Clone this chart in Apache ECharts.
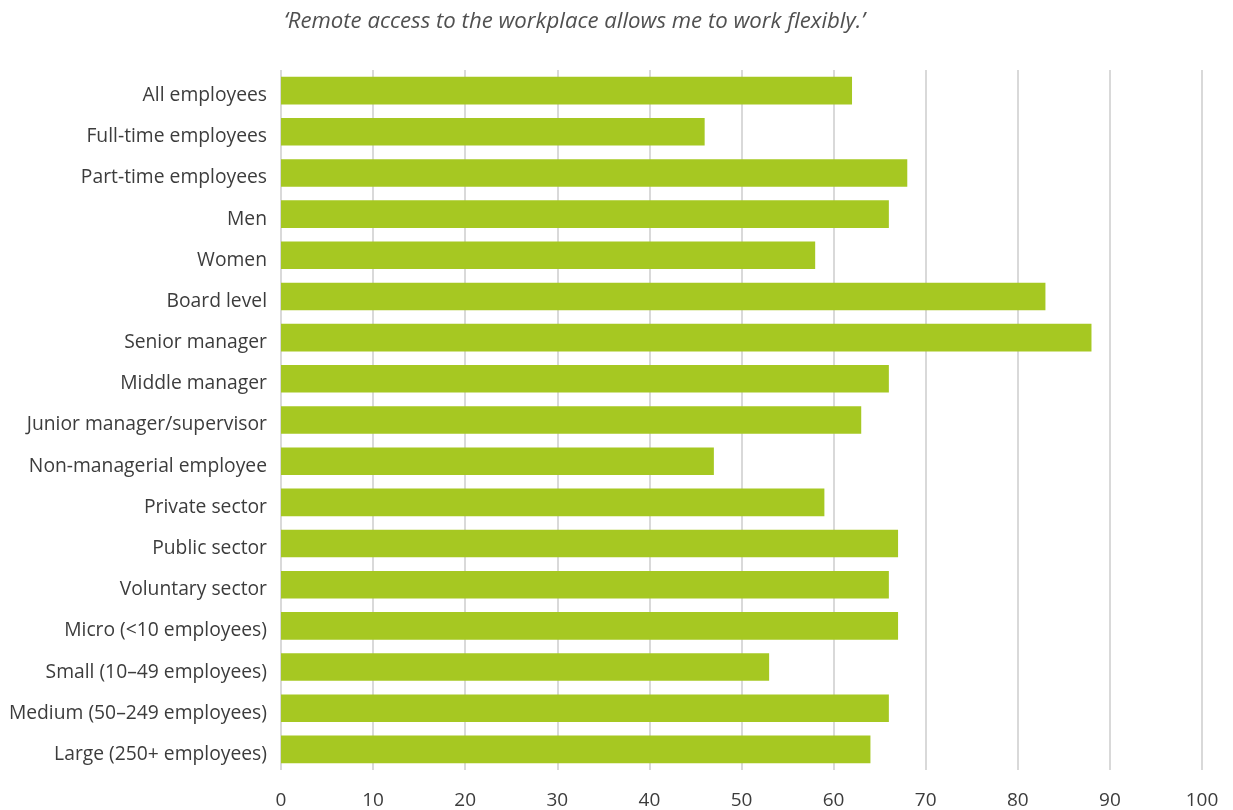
<!DOCTYPE html>
<html><head><meta charset="utf-8">
<script src="https://cdn.jsdelivr.net/npm/echarts@6/dist/echarts.min.js"></script>
<style>html,body{margin:0;padding:0;background:#fff}#c{width:1233px;height:810px}</style>
</head><body><div id="c"></div>
<script>
const titleText = '\u2018Remote access to the workplace allows me to work flexibly.\u2019';
const categories = [
  'All employees','Full-time employees','Part-time employees','Men','Women',
  'Board level','Senior manager','Middle manager','Junior manager/supervisor',
  'Non-managerial employee','Private sector','Public sector','Voluntary sector',
  'Micro (<10 employees)','Small (10\u201349 employees)','Medium (50\u2013249 employees)','Large (250+ employees)'
];
const values = [62,46,68,66,58,83,88,66,63,47,59,67,66,67,53,66,64];
const xTicks = [0,10,20,30,40,50,60,70,80,90,100];

const chart = echarts.init(document.getElementById('c'));
chart.setOption({
  animation:false,
  title:{text:titleText,left:279,top:6,textStyle:{fontFamily:'Open Sans',fontStyle:'italic',fontWeight:'normal',fontSize:22.2,color:'#505050'}},
  grid:{left:281,right:31,top:70,bottom:40,containLabel:false},
  xAxis:{type:'value',min:xTicks[0],max:xTicks[xTicks.length-1],interval:10,
    axisLine:{show:false},axisTick:{show:false},
    splitLine:{lineStyle:{color:'#d9d9d9',width:2}},
    axisLabel:{margin:21,fontFamily:'Open Sans',fontSize:19,color:'#3c3c3c'}},
  yAxis:{type:'category',data:categories,inverse:true,
    axisLine:{show:false},axisTick:{show:false},
    axisLabel:{margin:14,formatter:v=>'{a|'+v+'}',
      rich:{a:{padding:[10,0,0,0],fontFamily:'Open Sans',fontSize:19.3,color:'#3c3c3c'}}}},
  series:[{type:'bar',data:values,barWidth:'67%',itemStyle:{color:'#a6c822'}}]
});
</script></body></html>
